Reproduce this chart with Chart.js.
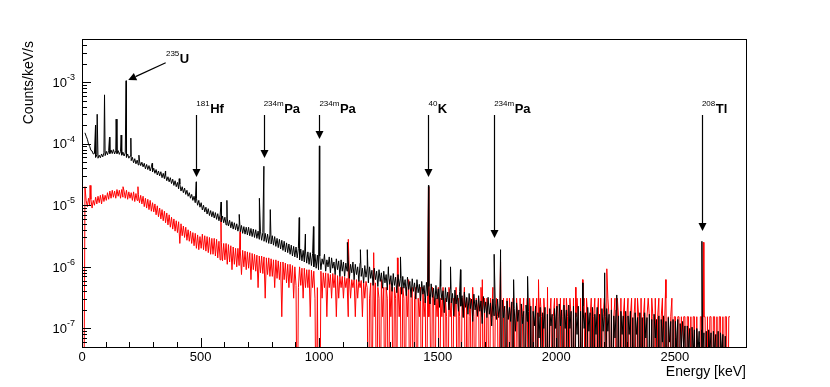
<!DOCTYPE html>
<html>
<head>
<meta charset="utf-8">
<script src="https://cdn.jsdelivr.net/npm/chart.js@4/dist/chart.umd.min.js"></script>
<style>
  html, body { margin: 0; padding: 0; background: #fff; }
  canvas { display: block; }
</style>
</head>
<body>
<canvas id="c" width="830" height="387"></canvas>
<script>
// ---- Data: spectrum in 5 keV bins, first bin centred at 2.5 keV (Counts/keV/s); 0 = empty bin ----
const binStart = 2.5;
const binWidth = 5;

const blackValues = [
  null, null, 1.5e-4, 1.32e-4, 1.18e-4, 9.9e-5, 9.0e-5, 7.8e-5, 7.6e-5, 6.8e-5,
  6.9e-5, 6.0e-5, 6.6e-5, 5.8e-5, 6.5e-5, 5.9e-5, 6.8e-5, 6.1e-5, 7.1e-5, 6.4e-5,
  7.5e-5, 6.6e-5, 7.8e-5, 6.9e-5, 7.9e-5, 6.9e-5, 8.0e-5, 6.8e-5, 7.8e-5, 6.9e-5,
  7.7e-5, 6.7e-5, 7.5e-5, 6.5e-5, 7.3e-5, 6.3e-5, 7.1e-5, 6.0e-5, 6.8e-5, 5.8e-5,
  6.3e-5, 5.3e-5, 6.0e-5, 4.9e-5, 5.7e-5, 4.7e-5, 5.4e-5, 4.5e-5, 5.2e-5, 4.4e-5,
  5.0e-5, 4.2e-5, 4.8e-5, 3.9e-5, 4.6e-5, 3.8e-5, 4.4e-5, 3.6e-5, 4.2e-5, 3.5e-5,
  4.0e-5, 3.3e-5, 3.8e-5, 3.1e-5, 3.6e-5, 3.0e-5, 3.5e-5, 2.8e-5, 3.3e-5, 2.7e-5,
  3.1e-5, 2.5e-5, 2.9e-5, 2.4e-5, 2.8e-5, 2.25e-5, 2.65e-5, 2.1e-5, 2.5e-5, 2.0e-5,
  2.35e-5, 1.85e-5, 2.2e-5, 1.7e-5, 2.0e-5, 1.6e-5, 1.9e-5, 1.5e-5, 1.75e-5, 1.4e-5,
  1.6e-5, 1.3e-5, 1.5e-5, 1.2e-5, 1.4e-5, 1.1e-5, 1.3e-5, 1.0e-5, 1.2e-5, 9.3e-6,
  1.1e-5, 8.4e-6, 1.0e-5, 7.8e-6, 9.3e-6, 7.2e-6, 8.8e-6, 6.8e-6, 8.2e-6, 6.5e-6,
  7.9e-6, 6.2e-6, 7.6e-6, 5.9e-6, 7.3e-6, 5.6e-6, 7.0e-6, 5.4e-6, 6.7e-6, 5.2e-6,
  6.4e-6, 4.8e-6, 6.0e-6, 4.6e-6, 5.7e-6, 4.3e-6, 5.4e-6, 4.1e-6, 5.2e-6, 4.0e-6,
  5.0e-6, 3.8e-6, 4.8e-6, 3.7e-6, 4.7e-6, 3.5e-6, 4.5e-6, 3.4e-6, 4.4e-6, 3.3e-6,
  4.4e-6, 3.2e-6, 4.2e-6, 3.1e-6, 4.1e-6, 3.0e-6, 4.0e-6, 2.9e-6, 3.8e-6, 2.8e-6,
  3.8e-6, 2.7e-6, 3.6e-6, 2.6e-6, 3.5e-6, 2.5e-6, 3.4e-6, 2.4e-6, 3.3e-6, 2.35e-6,
  3.2e-6, 2.25e-6, 3.1e-6, 2.15e-6, 2.9e-6, 2.05e-6, 2.8e-6, 1.95e-6, 2.7e-6, 1.85e-6,
  2.6e-6, 1.75e-6, 2.45e-6, 1.7e-6, 2.35e-6, 1.6e-6, 2.25e-6, 1.5e-6, 2.15e-6, 1.45e-6,
  2.1e-6, 1.4e-6, 2.0e-6, 1.3e-6, 1.95e-6, 1.25e-6, 1.85e-6, 1.2e-6, 1.8e-6, 1.15e-6,
  1.75e-6, 1.1e-6, 1.7e-6, 1.05e-6, 1.65e-6, 1.0e-6, 1.6e-6, 9.5e-7, 1.55e-6, 9.0e-7,
  1.5e-6, 9.0e-7, 1.35e-6, 1.1e-6, 1.6e-6, 8.5e-7, 1.3e-6, 1.0e-6, 1.45e-6, 8.0e-7,
  1.4e-6, 9.5e-7, 1.2e-6, 7.5e-7, 1.35e-6, 9.0e-7, 1.25e-6, 7.0e-7, 1.3e-6, 8.5e-7,
  1.2e-6, 7.0e-7, 1.15e-6, 8.5e-7, 1.3e-6, 6.5e-7, 1.1e-6, 8.0e-7, 1.2e-6, 6.2e-7,
  1.1e-6, 7.5e-7, 1.0e-6, 5.8e-7, 1.15e-6, 7.0e-7, 9.5e-7, 5.5e-7, 1.05e-6, 6.8e-7,
  9.5e-7, 5.5e-7, 1.0e-6, 6.5e-7, 8.8e-7, 5.0e-7, 9.5e-7, 6.2e-7, 8.5e-7, 4.8e-7,
  9.0e-7, 5.8e-7, 8.0e-7, 4.5e-7, 8.5e-7, 5.5e-7, 7.5e-7, 4.2e-7, 8.0e-7, 5.2e-7,
  7.2e-7, 4.0e-7, 7.8e-7, 5.0e-7, 6.8e-7, 3.8e-7, 7.5e-7, 4.8e-7, 6.5e-7, 3.6e-7,
  7.0e-7, 4.5e-7, 6.2e-7, 3.4e-7, 6.8e-7, 4.3e-7, 5.8e-7, 3.2e-7, 6.4e-7, 4.0e-7,
  5.5e-7, 3.0e-7, 6.2e-7, 3.8e-7, 5.2e-7, 2.8e-7, 5.8e-7, 3.6e-7, 5.0e-7, 2.6e-7,
  5.6e-7, 3.4e-7, 4.8e-7, 2.5e-7, 5.3e-7, 3.2e-7, 4.5e-7, 2.4e-7, 5.0e-7, 3.0e-7,
  4.4e-7, 2.2e-7, 4.8e-7, 2.9e-7, 4.1e-7, 1.8e-7, 4.6e-7, 2.7e-7, 3.9e-7, 2.0e-7,
  4.4e-7, 2.6e-7, 3.7e-7, 1.6e-7, 4.2e-7, 2.5e-7, 3.5e-7, 1.9e-7, 4.0e-7, 2.3e-7,
  3.4e-7, 1.5e-7, 3.9e-7, 2.2e-7, 3.2e-7, 1.7e-7, 3.7e-7, 2.1e-7, 3.0e-7, 1.3e-7,
  3.6e-7, 2.0e-7, 2.9e-7, 1.6e-7, 3.4e-7, 1.9e-7, 2.8e-7, 1.2e-7, 3.3e-7, 1.8e-7,
  2.7e-7, 1.5e-7, 3.2e-7, 1.7e-7, 2.6e-7, 1.1e-7, 3.0e-7, 1.6e-7, 2.5e-7, 1.4e-7,
  3.0e-7, 1.5e-7, 2.4e-7, 0, 2.9e-7, 1.5e-7, 2.3e-7, 0, 2.8e-7, 1.4e-7,
  2.2e-7, 1.3e-7, 2.7e-7, 0, 2.1e-7, 9e-8, 2.6e-7, 1.3e-7, 2.0e-7, 0,
  2.5e-7, 1.2e-7, 1.9e-7, 0, 2.4e-7, 1.3e-7, 1.9e-7, 0, 2.3e-7, 0,
  1.9e-7, 1.1e-7, 2.3e-7, 0, 1.8e-7, 7e-8, 2.2e-7, 0, 1.8e-7, 1.0e-7,
  2.2e-7, 0, 1.7e-7, 0, 2.1e-7, 1.1e-7, 1.7e-7, 0, 2.1e-7, 1.0e-7,
  2.3e-7, 0, 2.5e-7, 1.1e-7, 2.0e-7, 0, 2.4e-7, 1.0e-7, 2.0e-7, 0,
  2.4e-7, 1.0e-7, 1.9e-7, 0, 2.3e-7, 0, 1.8e-7, 8e-8, 2.3e-7, 0,
  1.9e-7, 0, 2.3e-7, 1.0e-7, 1.8e-7, 0, 2.2e-7, 9e-8, 1.8e-7, 0,
  2.2e-7, 0, 1.7e-7, 8e-8, 2.2e-7, 0, 1.7e-7, 0, 2.1e-7, 9e-8,
  1.7e-7, 0, 2.1e-7, 9e-8, 1.7e-7, 0, 2.0e-7, 0, 1.6e-7, 7e-8,
  2.0e-7, 0, 1.6e-7, 0, 1.9e-7, 8e-8, 1.6e-7, 0, 1.9e-7, 0,
  1.6e-7, 8e-8, 1.9e-7, 0, 1.5e-7, 0, 1.8e-7, 8e-8, 1.5e-7, 0,
  1.8e-7, 0, 1.5e-7, 0, 1.8e-7, 7e-8, 1.5e-7, 0, 1.7e-7, 0,
  1.4e-7, 0, 1.7e-7, 7e-8, 1.4e-7, 0, 1.6e-7, 0, 1.4e-7, 6e-8,
  1.6e-7, 0, 1.3e-7, 0, 1.5e-7, 6e-8, 1.3e-7, 0, 1.4e-7, 0,
  1.3e-7, 5e-8, 1.4e-7, 0, 1.2e-7, 5e-8, 1.3e-7, 4.5e-8, 1.1e-7, 0,
  1.1e-7, 4.5e-8, 1.0e-7, 0, 1.05e-7, 4e-8, 9.5e-8, 0, 1.0e-7, 4e-8,
  9e-8, 0, 9.5e-8, 4e-8, 8.5e-8, 0, 9e-8, 0, 9.5e-8, 4e-8,
  8.5e-8, 0, 9e-8, 4e-8, 8e-8, 0, 9e-8, 0, 8.5e-8, 4e-8,
  8e-8, 0, 7.5e-8, 0, null, null, null, null, null, null,
  null, null, null, null, null, null, null, null, null, null
];

const redValues = [
  0, 0, 2.0e-5, 1.2e-5, 9.5e-6, 1.3e-5, 1.0e-5, 1.25e-5, 9.0e-6, 1.2e-5,
  1.0e-5, 1.35e-5, 1.05e-5, 1.4e-5, 1.1e-5, 1.45e-5, 1.05e-5, 1.5e-5, 1.15e-5, 1.45e-5,
  1.2e-5, 1.6e-5, 1.25e-5, 1.7e-5, 1.3e-5, 1.75e-5, 1.35e-5, 1.7e-5, 1.3e-5, 1.8e-5,
  1.4e-5, 1.75e-5, 1.3e-5, 1.8e-5, 1.35e-5, 1.7e-5, 1.3e-5, 1.75e-5, 1.25e-5, 1.65e-5,
  1.3e-5, 1.6e-5, 1.2e-5, 1.65e-5, 1.15e-5, 1.55e-5, 1.2e-5, 1.5e-5, 1.1e-5, 1.45e-5,
  1.05e-5, 1.4e-5, 9.5e-6, 1.3e-5, 9.0e-6, 1.25e-5, 8.5e-6, 1.2e-5, 8.0e-6, 1.1e-5,
  7.8e-6, 1.05e-5, 7.0e-6, 9.8e-6, 6.5e-6, 9.0e-6, 6.0e-6, 8.5e-6, 5.6e-6, 8.0e-6,
  5.2e-6, 7.5e-6, 4.8e-6, 7.0e-6, 4.4e-6, 6.4e-6, 4.1e-6, 6.0e-6, 3.8e-6, 5.6e-6,
  3.6e-6, 5.4e-6, 2.4e-6, 5.0e-6, 3.2e-6, 4.6e-6, 3.0e-6, 4.4e-6, 2.7e-6, 4.0e-6,
  2.6e-6, 3.8e-6, 2.4e-6, 3.6e-6, 2.2e-6, 3.5e-6, 2.0e-6, 3.3e-6, 1.9e-6, 3.1e-6,
  2.0e-6, 3.4e-6, 1.9e-6, 3.2e-6, 1.8e-6, 3.1e-6, 1.7e-6, 3.0e-6, 1.6e-6, 2.9e-6,
  1.6e-6, 2.9e-6, 1.5e-6, 2.8e-6, 1.4e-6, 2.6e-6, 1.3e-6, 2.5e-6, 1.25e-6, 2.4e-6,
  1.3e-6, 2.4e-6, 1.1e-6, 2.3e-6, 1.2e-6, 2.2e-6, 9.0e-7, 2.1e-6, 1.1e-6, 2.0e-6,
  1.0e-6, 2.0e-6, 1.05e-6, 1.9e-6, 7.5e-7, 1.85e-6, 1.0e-6, 1.8e-6, 9.0e-7, 1.75e-6,
  9.5e-7, 1.7e-6, 6.2e-7, 1.65e-6, 9.0e-7, 1.6e-6, 8.5e-7, 1.55e-6, 4.6e-7, 1.5e-6,
  8.0e-7, 1.5e-6, 7.8e-7, 1.45e-6, 3.1e-7, 1.4e-6, 7.5e-7, 1.4e-6, 7.0e-7, 1.35e-6,
  7.0e-7, 1.3e-6, 4.6e-7, 1.3e-6, 6.5e-7, 1.25e-6, 6.2e-7, 1.2e-6, 1.55e-7, 1.2e-6,
  6.2e-7, 1.15e-6, 5.5e-7, 1.1e-6, 4.6e-7, 1.1e-6, 5.5e-7, 1.05e-6, 3.1e-7, 1.0e-6,
  5.0e-7, 0, 4.6e-7, 1.0e-6, 5.0e-7, 9.5e-7, 3.1e-7, 9.5e-7, 4.6e-7, 9.0e-7,
  4.6e-7, 9.0e-7, 1.55e-7, 8.8e-7, 4.6e-7, 8.5e-7, 3.1e-7, 0, 4.6e-7, 0,
  0, 8.5e-7, 3.1e-7, 8.0e-7, 4.6e-7, 8.0e-7, 1.55e-7, 7.8e-7, 4.6e-7, 7.5e-7,
  3.1e-7, 7.8e-7, 4.6e-7, 7.5e-7, 1.55e-7, 7.2e-7, 3.1e-7, 7.0e-7, 4.6e-7, 7.0e-7,
  3.1e-7, 6.8e-7, 4.6e-7, 6.5e-7, 1.55e-7, 6.5e-7, 3.1e-7, 6.2e-7, 4.6e-7, 6.2e-7,
  1.55e-7, 6.2e-7, 3.1e-7, 6.0e-7, 4.6e-7, 6.0e-7, 1.55e-7, 5.8e-7, 3.1e-7, 5.8e-7,
  4.6e-7, 0, 3.1e-7, 5.5e-7, 0, 6.2e-7, 1.55e-7, 5.5e-7, 0, 4.65e-7,
  3.1e-7, 0, 6.2e-7, 1.55e-7, 4.65e-7, 0, 4.65e-7, 3.1e-7, 0, 6.2e-7,
  1.55e-7, 4.65e-7, 0, 4.65e-7, 3.1e-7, 0, 6.2e-7, 1.55e-7, 4.65e-7, 0,
  4.65e-7, 3.1e-7, 0, 4.65e-7, 1.55e-7, 6.2e-7, 0, 3.1e-7, 4.65e-7, 0,
  3.1e-7, 4.65e-7, 0, 3.1e-7, 1.55e-7, 4.65e-7, 0, 4.65e-7, 1.55e-7, 3.1e-7,
  0, 4.65e-7, 1.55e-7, 3.1e-7, 0, 4.65e-7, 3.1e-7, 0, 3.1e-7, 1.55e-7,
  4.65e-7, 0, 3.1e-7, 1.55e-7, 4.65e-7, 0, 3.1e-7, 1.55e-7, 0, 4.65e-7,
  1.55e-7, 3.1e-7, 0, 3.1e-7, 1.55e-7, 4.65e-7, 0, 3.1e-7, 1.55e-7, 0,
  3.1e-7, 1.55e-7, 4.65e-7, 0, 3.1e-7, 0, 1.55e-7, 3.1e-7, 0, 4.65e-7,
  1.55e-7, 0, 3.1e-7, 1.55e-7, 3.1e-7, 0, 4.65e-7, 1.55e-7, 0, 3.1e-7,
  0, 3.1e-7, 1.55e-7, 0, 3.1e-7, 1.55e-7, 4.65e-7, 0, 1.55e-7, 3.1e-7,
  1.55e-7, 0, 3.1e-7, 1.55e-7, 0, 3.1e-7, 0, 1.55e-7, 3.1e-7, 0,
  3.1e-7, 1.55e-7, 0, 3.1e-7, 1.55e-7, 0, 3.1e-7, 1.55e-7, 0, 3.1e-7,
  0, 1.55e-7, 3.1e-7, 0, 1.55e-7, 3.1e-7, 0, 3.1e-7, 1.55e-7, 0,
  3.1e-7, 0, 1.55e-7, 3.1e-7, 0, 1.55e-7, 3.1e-7, 1.55e-7, 0, 3.1e-7,
  1.55e-7, 0, 3.1e-7, 0, 1.55e-7, 3.1e-7, 0, 1.55e-7, 3.1e-7, 0,
  3.1e-7, 1.55e-7, 0, 3.1e-7, 0, 1.55e-7, 3.1e-7, 0, 3.1e-7, 1.55e-7,
  0, 3.1e-7, 1.55e-7, 0, 3.1e-7, 0, 1.55e-7, 3.1e-7, 1.55e-7, 0,
  3.1e-7, 0, 1.55e-7, 3.1e-7, 0, 3.1e-7, 1.55e-7, 0, 1.55e-7, 3.1e-7,
  0, 1.55e-7, 3.1e-7, 0, 1.55e-7, 3.1e-7, 0, 3.1e-7, 0, 1.55e-7,
  3.1e-7, 1.55e-7, 0, 3.1e-7, 1.55e-7, 0, 3.1e-7, 0, 1.55e-7, 3.1e-7,
  0, 3.1e-7, 1.55e-7, 0, 3.1e-7, 0, 1.55e-7, 3.1e-7, 0, 1.55e-7,
  3.1e-7, 0, 1.55e-7, 3.1e-7, 0, 1.55e-7, 3.1e-7, 0, 3.1e-7, 1.55e-7,
  0, 3.1e-7, 0, 1.55e-7, 3.1e-7, 0, 1.55e-7, 3.1e-7, 1.55e-7, 0,
  3.1e-7, 1.55e-7, 0, 3.1e-7, 0, 1.55e-7, 3.1e-7, 0, 1.55e-7, 3.1e-7,
  0, 1.55e-7, 3.1e-7, 0, 1.55e-7, 0, 1.55e-7, 3.1e-7, 0, 1.55e-7,
  1.55e-7, 0, 1.55e-7, 1.55e-7, 0, 1.55e-7, 0, 1.55e-7, 1.55e-7, 0,
  1.55e-7, 1.55e-7, 0, 1.55e-7, 0, 1.55e-7, 1.55e-7, 0, 1.55e-7, 0,
  0, 1.55e-7, 1.55e-7, 0, 1.55e-7, 1.55e-7, 0, 1.55e-7, 0, 1.55e-7,
  1.55e-7, 0, 1.55e-7, 1.55e-7, 0, 1.55e-7, 0, 1.55e-7, 1.55e-7, 0,
  1.55e-7, 0, 1.55e-7, 1.55e-7, 0, 1.55e-7, 1.55e-7, null, null, null,
  null, null, null, null, null, null, null, null, null, null
];

// Narrow gamma lines (energy in keV, height in Counts/keV/s)
const blackPeakE = [57, 64, 95, 116, 144, 165, 186, 206, 240, 296, 352, 410, 482, 587, 611, 663, 748, 767, 794, 916, 942, 976, 1001, 1119, 1174, 1203, 1292, 1343, 1461, 1512, 1554, 1596, 1738, 1765, 1820, 1879, 2111, 2204, 2255, 2614];
const blackPeakV = [2.0e-4, 3.0e-4, 6.2e-4, 1.28e-4, 2.5e-4, 1.38e-4, 1.05e-3, 1.23e-4, 6.5e-5, 4.8e-5, 3.6e-5, 2.7e-5, 2.4e-5, 1.13e-5, 1.2e-5, 7.1e-6, 1.3e-5, 4.3e-5, 8.5e-6, 6.3e-6, 3.4e-6, 4.5e-6, 9.2e-5, 2.5e-6, 1.9e-6, 1.9e-6, 1.0e-6, 1.45e-6, 2.1e-5, 1.3e-6, 1.0e-6, 9e-7, 1.6e-6, 1.9e-6, 6.2e-7, 7e-7, 5.5e-7, 8e-7, 3.5e-7, 2.6e-6];

const redPeakE = [34, 173, 236, 586, 667, 1123, 1230, 1330, 1461, 1688, 1765, 1925, 1963, 2082, 2111, 2213, 2462, 2620];
const redPeakV = [2.1e-5, 2.0e-5, 2.0e-5, 6.3e-6, 3.7e-6, 2.8e-6, 1.7e-6, 1.4e-6, 2.0e-5, 6.2e-7, 1.2e-6, 6.2e-7, 4.65e-7, 4.65e-7, 6.2e-7, 9.3e-7, 6.2e-7, 2.5e-6];

// Axis ticks
const xMajorTicks = [0, 500, 1000, 1500, 2000, 2500];
const yDecadeExponents = [-7, -6, -5, -4, -3];

// Line annotations
const annSup   = ['235', '181', '234m', '234m', '40', '234m', '208'];
const annName  = ['U', 'Hf', 'Pa', 'Pa', 'K', 'Pa', 'Tl'];
const annTailE = [353, 482, 766, 1001, 1461, 1738, 2614];
const annTailV = [2.06e-3, 2.92e-4, 2.92e-4, 2.92e-4, 2.92e-4, 2.92e-4, 2.92e-4];
const annTipE  = [195, 482, 766, 1001, 1461, 1738, 2614];
const annTipV  = [1.08e-3, 2.88e-5, 5.85e-5, 1.19e-4, 2.88e-5, 2.94e-6, 3.82e-6];
const annLabelE = [354, 482, 766, 1001, 1461, 1738, 2614];
const annLabelV = [2.04e-3, 3.15e-4, 3.15e-4, 3.15e-4, 3.15e-4, 3.15e-4, 3.15e-4];

// empty bins are drawn down to (and clipped at) the bottom of the frame, as in the original histogram
const EMPTY_BIN_DRAW = 1e-9;

function buildSeries(values, peakE, peakV) {
  const pts = [];
  values.forEach((v, i) => {
    if (v !== null) pts.push({ x: binStart + i * binWidth, y: v > 0 ? v : EMPTY_BIN_DRAW });
  });
  peakE.forEach((e, k) => pts.push({ x: e, y: peakV[k] }));
  pts.sort((a, b) => a.x - b.x);
  return pts;
}

const FONT = '"Liberation Sans", Arial, Helvetica, sans-serif';

const rootStyle = {
  id: 'rootStyle',
  afterDatasetsDraw(chart) {
    const { ctx, chartArea: a, scales: { x, y } } = chart;
    ctx.save();
    ctx.strokeStyle = '#000';
    ctx.fillStyle = '#000';
    ctx.lineWidth = 1;

    // frame
    ctx.strokeRect(a.left + 0.5, a.top + 0.5, a.right - a.left, a.bottom - a.top);

    // x ticks (inside, from bottom)
    ctx.beginPath();
    for (let e = 0; e <= 2800; e += 100) {
      const px = Math.round(x.getPixelForValue(e)) + 0.5;
      const len = (e % 500 === 0) ? 9 : 5;
      ctx.moveTo(px, a.bottom);
      ctx.lineTo(px, a.bottom - len);
    }
    // y ticks (inside, from left)
    [-8].concat(yDecadeExponents).forEach(p => {
      for (let m = 1; m <= 9; m++) {
        const v = m * Math.pow(10, p);
        if (v < y.min || v > y.max) continue;
        const py = Math.round(y.getPixelForValue(v)) + 0.5;
        const len = (m === 1) ? 9 : 5;
        ctx.moveTo(a.left, py);
        ctx.lineTo(a.left + len, py);
      }
    });
    ctx.stroke();

    // x tick labels
    ctx.font = '13px ' + FONT;
    ctx.textAlign = 'center';
    ctx.textBaseline = 'alphabetic';
    xMajorTicks.forEach(e => {
      ctx.fillText(String(e), x.getPixelForValue(e), a.bottom + 14);
    });

    // y tick labels 10^n
    yDecadeExponents.forEach(p => {
      const py = y.getPixelForValue(Math.pow(10, p));
      const exp = String(p);
      ctx.font = '9px ' + FONT;
      const ew = ctx.measureText(exp).width;
      ctx.font = '13px ' + FONT;
      const bw = ctx.measureText('10').width;
      const right = a.left - 7;
      ctx.textAlign = 'left';
      ctx.fillText('10', right - ew - bw, py + 4.7);
      ctx.font = '9px ' + FONT;
      ctx.fillText(exp, right - ew, py - 2);
    });

    // axis titles
    ctx.font = '14px ' + FONT;
    ctx.textAlign = 'right';
    ctx.fillText('Energy [keV]', a.right, a.bottom + 29);
    ctx.save();
    ctx.translate(33, a.top + 2);
    ctx.rotate(-Math.PI / 2);
    ctx.textAlign = 'right';
    ctx.fillText('Counts/keV/s', 0, 0);
    ctx.restore();

    // arrows + labels
    for (let k = 0; k < annName.length; k++) {
      const tx = x.getPixelForValue(annTailE[k]), ty = y.getPixelForValue(annTailV[k]);
      const hx = x.getPixelForValue(annTipE[k]), hy = y.getPixelForValue(annTipV[k]);
      const dx = hx - tx, dy = hy - ty, L = Math.hypot(dx, dy);
      const ux = dx / L, uy = dy / L;
      const headLen = 8, headW = 4;
      const vertical = Math.abs(ux) < 1e-6;
      const sx = vertical ? Math.round(tx) + 0.5 : tx;
      const ex = vertical ? sx : hx;
      const bx = ex - ux * headLen, by = hy - uy * headLen;
      ctx.lineWidth = 1.2;
      ctx.beginPath();
      ctx.moveTo(sx, ty);
      ctx.lineTo(bx, by);
      ctx.stroke();
      ctx.beginPath();
      ctx.moveTo(ex, hy);
      ctx.lineTo(bx - uy * headW, by + ux * headW);
      ctx.lineTo(bx + uy * headW, by - ux * headW);
      ctx.closePath();
      ctx.fill();

      const lx = x.getPixelForValue(annLabelE[k]);
      const ly = y.getPixelForValue(annLabelV[k]);
      ctx.textAlign = 'left';
      ctx.font = '8px ' + FONT;
      const sw = ctx.measureText(annSup[k]).width;
      ctx.fillText(annSup[k], lx, ly - 6.5);
      ctx.font = 'bold 13px ' + FONT;
      ctx.fillText(annName[k], lx + sw + 0.5, ly);
    }
    ctx.restore();
  }
};

new Chart(document.getElementById('c').getContext('2d'), {
  type: 'line',
  data: {
    datasets: [
      { label: 'black', data: buildSeries(blackValues, blackPeakE, blackPeakV),
        borderColor: '#000000', borderWidth: 1, pointRadius: 0, tension: 0, fill: false },
      { label: 'red', data: buildSeries(redValues, redPeakE, redPeakV),
        borderColor: '#ff0000', borderWidth: 1, pointRadius: 0, tension: 0, fill: false }
    ]
  },
  options: {
    responsive: false,
    animation: false,
    devicePixelRatio: 1,
    layout: { padding: { left: 82, right: 84, top: 39, bottom: 40 } },
    scales: {
      x: { type: 'linear', min: 0, max: 2800, display: false },
      y: { type: 'logarithmic', min: 5e-8, max: 5e-3, display: false }
    },
    plugins: { legend: { display: false }, tooltip: { enabled: false } }
  },
  plugins: [rootStyle]
});
</script>
</body>
</html>
